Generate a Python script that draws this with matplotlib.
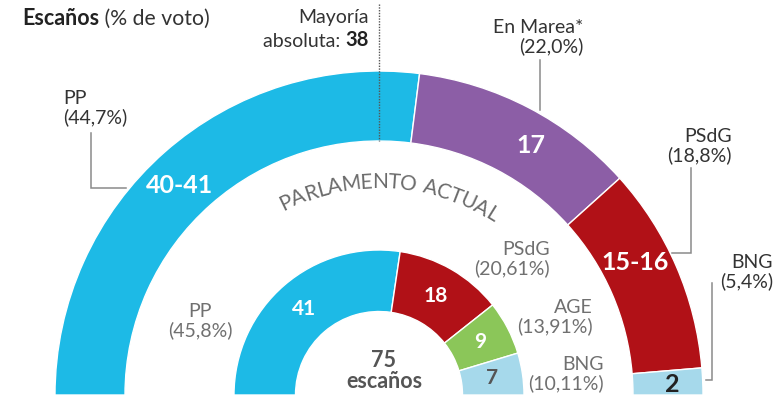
import numpy as np
import matplotlib
matplotlib.use("Agg")
import matplotlib.pyplot as plt
from matplotlib.patches import Wedge
from matplotlib.font_manager import FontProperties

TOTAL_SEATS = 75
MAJORITY = 38

# encuesta (arco exterior)
poll_parties = ["PP", "En Marea*", "PSdG", "BNG"]
poll_seats_low = [40, 17, 15, 2]
poll_seats_high = [41, 17, 16, 2]
poll_votes = [44.7, 22.0, 18.8, 5.4]

# parlamento actual (arco interior)
parl_parties = ["PP", "PSdG", "AGE", "BNG"]
parl_seats = [41, 18, 9, 7]
parl_votes = [45.8, 20.61, 13.91, 10.11]

COLORS = {"PP": "#1dbae6", "En Marea*": "#8c5ea6", "PSdG": "#b11117",
          "BNG": "#a6d9eb", "AGE": "#8bc659"}
NUM_COLORS = {"BNG": "#222222"}
DARK = "#333333"
GRAY = "#707070"

W, H = 781, 401
plt.rcParams["font.family"] = ["Lato", "DejaVu Sans"]

fig = plt.figure(figsize=(W / 100, H / 100), dpi=100)
ax = fig.add_axes([0, 0, 1, 1])
ax.set_xlim(0, W)
ax.set_ylim(0, H)
ax.axis("off")


def Y(py):
    # reference pixel rows -> axes coords (y up)
    return H - py


cx, cy = 379, Y(395)
R_OUT, W_OUT = 324, 70
R_IN, W_IN = 145, 61.5


def seat_angle(s):
    return 180 - 180 * s / TOTAL_SEATS


def fmt_pct(v, nd):
    return f"({v:.{nd}f}%)".replace(".", ",")


def draw_ring(seats, parties, r, w):
    mids = []
    cum = 0
    for s, p in zip(seats, parties):
        a1, a2 = seat_angle(cum + s), seat_angle(cum)
        ax.add_patch(Wedge((cx, cy), r, a1, a2, width=w, facecolor=COLORS[p],
                           edgecolor="white", linewidth=1))
        mids.append((a1 + a2) / 2)
        cum += s
    return mids


# --- arco exterior: encuesta ---
poll_mid = [(lo + hi) / 2 for lo, hi in zip(poll_seats_low, poll_seats_high)]
outer_mids = draw_ring(poll_mid, poll_parties, R_OUT, W_OUT)
outer_nudge = [2.2, -3.7, 4.0, -0.4]
outer_rad = [289, 292, 289, 293]
for p, lo, hi, m, dn, rr in zip(poll_parties, poll_seats_low, poll_seats_high,
                                outer_mids, outer_nudge, outer_rad):
    t = f"{lo}" if lo == hi else f"{lo}-{hi}"
    a = np.radians(m + dn)
    ax.text(cx + rr * np.cos(a), cy + rr * np.sin(a), t, ha="center", va="center",
            fontsize=18, fontweight="bold", color=NUM_COLORS.get(p, "white"))

# --- arco interior: parlamento actual ---
inner_mids = draw_ring(parl_seats, parl_parties, R_IN, W_IN)
for p, s, m in zip(parl_parties, parl_seats, inner_mids):
    a = np.radians(m)
    col = "#555555" if p == "BNG" else "white"
    ax.text(cx + 114 * np.cos(a), cy + 114 * np.sin(a), str(s), ha="center",
            va="center", fontsize=15, fontweight="bold", color=col)

ax.text(384, Y(388), f"{TOTAL_SEATS}\nescaños", ha="center", va="baseline",
        fontsize=15.5, fontweight="bold", color="#555555", linespacing=1.0)

# --- mayoría absoluta ---
ma = np.radians(seat_angle(MAJORITY - 0.5))
ax.plot([cx + R_OUT * np.cos(ma)] * 2, [Y(4), cy + (R_OUT - W_OUT) * np.sin(ma)],
        ls=(0, (1, 1)), color="#555555", lw=1)
ax.text(369, Y(23), "Mayoría", ha="right", va="baseline", fontsize=14, color=DARK)
t38 = ax.text(369, Y(46), str(MAJORITY), ha="right", va="baseline", fontsize=14.5,
              fontweight="bold", color="#222222")
ax.annotate("absoluta: ", xy=(0, 0), xycoords=t38, ha="right", va="bottom",
            fontsize=14, color=DARK)

# --- título ---
t1 = ax.text(22, Y(25), "Escaños", ha="left", va="baseline", fontsize=15.5,
             fontweight="bold", color="#222222")
ax.annotate(" (% de voto)", xy=(1, 0), xycoords=t1, ha="left", va="bottom",
            fontsize=15.3, color=DARK)

# --- etiquetas encuesta (baseline de la segunda línea) ---
outer_lbl = [(63, 123, "left"), (583, 52, "right"), (732, 161, "right"),
             (773, 287, "right")]
for p, v, (x, y, ha) in zip(poll_parties, poll_votes, outer_lbl):
    ax.text(x, Y(y), f"{p}\n{fmt_pct(v, 1)}", ha=ha, va="baseline", fontsize=14,
            color=DARK, multialignment=ha, linespacing=1.05)

leaders = [[(91, 133), (91, 188), (126, 188)],
           [(540, 60), (540, 110)],
           [(691, 168), (691, 253), (672, 253)],
           [(712, 283), (712, 380), (706, 380)]]
for pts in leaders:
    xs, ys = zip(*pts)
    ax.plot(xs, [Y(v) for v in ys], color="#8a8a8a", lw=1.1,
            solid_joinstyle="miter")

# --- etiquetas parlamento ---
inner_lbl = [(200, 336, "center"), (550, 274, "right"), (593, 332, "right"),
             (604, 389, "right")]
for p, v, (x, y, ha) in zip(parl_parties, parl_votes, inner_lbl):
    nd = 1 if v == round(v, 1) else 2
    ax.text(x, Y(y), f"{p}\n{fmt_pct(v, nd)}", ha=ha, va="baseline", fontsize=14,
            color=GRAY, multialignment=ha, linespacing=1.05)


# --- texto curvo ---
def arc_text(s, r, a_start, a_end, size, color):
    fp = FontProperties(family="Lato", size=size)
    rend = fig.canvas.get_renderer()
    ws = []
    for ch in s:
        w, _, _ = rend.get_text_width_height_descent(ch if ch != " " else "n", fp, ismath=False)
        ws.append(w * (0.6 if ch == " " else 1.0))
    ws = np.array(ws)
    span = np.radians(a_start - a_end) * r
    track = (span - ws.sum()) / (len(s) - 1)
    pos = a_start
    for ch, w in zip(s, ws):
        ac = pos - np.degrees((w / 2) / r)
        a = np.radians(ac)
        ax.text(cx + r * np.cos(a), cy + r * np.sin(a), ch, fontproperties=fp,
                color=color, rotation=ac - 90, rotation_mode="anchor",
                ha="center", va="baseline")
        pos -= np.degrees((w + track) / r)


arc_text("PARLAMENTO ACTUAL", 207, 117.5, 56.5, 15, "#6b6b6b")

fig.savefig("out.png", dpi=100)
